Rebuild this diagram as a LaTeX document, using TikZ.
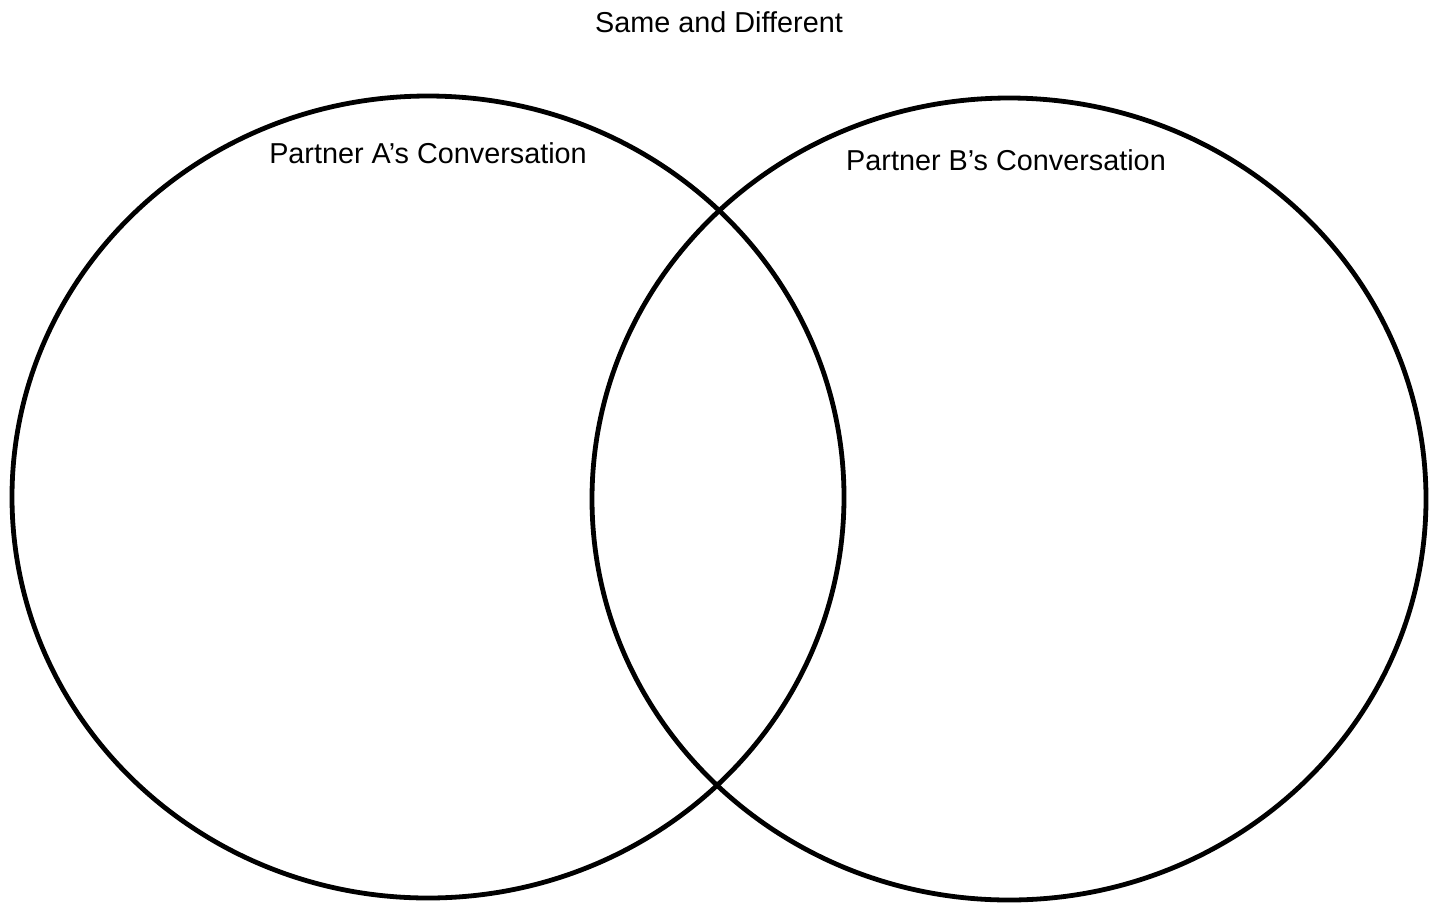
\documentclass[tikz,border=0pt]{standalone}
\usepackage{fontspec}
\usetikzlibrary{shapes.geometric}
\setmainfont{Liberation Sans}
\begin{document}
\begin{tikzpicture}[x=1pt,y=-1pt,
  ring/.style={draw=black,line width=4.8pt,ellipse,inner sep=0pt,minimum width=832pt,minimum height=802pt},
  lbl/.style={anchor=base,inner sep=0pt,font=\fontsize{28.8}{34}\selectfont}]
\useasboundingbox (0,0) rectangle (1434,903);
\node[ring] (A) at (428,497) {};
\node[ring,minimum width=834pt] (B) at (1009,499) {};
\node[lbl] (title) at (719,32) {Same and Different};
\node[lbl] (la) at (428,163) {Partner A’s Conversation};
\node[lbl] (lb) at (1006,170) {Partner B’s Conversation};
\end{tikzpicture}
\end{document}
